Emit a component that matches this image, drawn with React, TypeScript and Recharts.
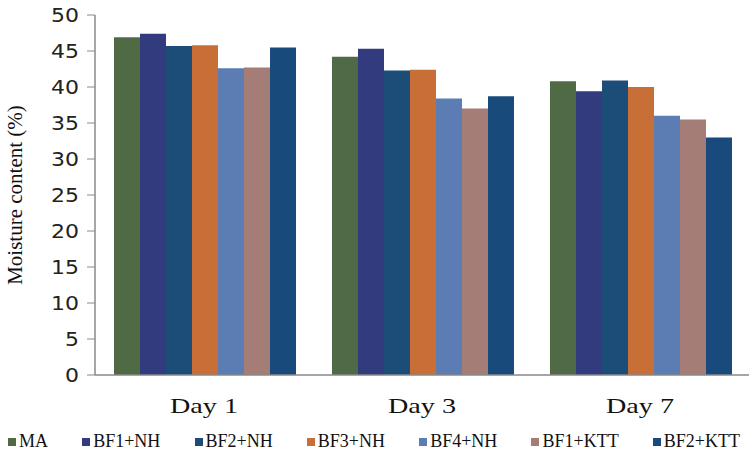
import React from "react";
import { BarChart, Bar, XAxis, YAxis } from "recharts";

const categories = ["Day 1", "Day 3", "Day 7"];
const seriesNames = ["MA", "BF1+NH", "BF2+NH", "BF3+NH", "BF4+NH", "BF1+KTT", "BF2+KTT"];
const MA = [46.9, 44.2, 40.8];
const BF1NH = [47.4, 45.3, 39.4];
const BF2NH = [45.7, 42.3, 40.9];
const BF3NH = [45.8, 42.4, 40.0];
const BF4NH = [42.6, 38.4, 36.0];
const BF1KTT = [42.7, 37.0, 35.5];
const BF2KTT = [45.5, 38.7, 33.0];
const yTicks = [0, 5, 10, 15, 20, 25, 30, 35, 40, 45, 50];

const seriesValues = [MA, BF1NH, BF2NH, BF3NH, BF4NH, BF1KTT, BF2KTT];
const colors = ["#4f6a45", "#313b7e", "#1c4c78", "#c76f37", "#5b7db3", "#a57d77", "#184a7b"];

const data = categories.map((c, i) => {
  const row: Record<string, any> = { name: c };
  seriesNames.forEach((s, j) => {
    row[s] = seriesValues[j][i];
  });
  return row;
});

const LegendBox = () => (
  <div
    style={{
      position: "absolute",
      left: 8,
      top: 431,
      width: 732,
      display: "flex",
      justifyContent: "space-between",
      fontFamily: "'Liberation Serif', 'Times New Roman', serif",
      fontSize: 18,
      color: "#111",
    }}
  >
    {seriesNames.map((s, i) => (
      <div key={s} style={{ display: "flex", alignItems: "center" }}>
        <span style={{ width: 8, height: 8, background: colors[i], display: "inline-block", marginRight: 3 }} />
        <span>{s}</span>
      </div>
    ))}
  </div>
);

const XTick = (props: any) => {
  const { x, y, payload } = props;
  return (
    <text
      x={x}
      y={y + 30}
      textAnchor="middle"
      fontFamily="'Liberation Serif', 'Times New Roman', serif"
      fontSize={22}
      fill="#111"
      textLength={68}
      lengthAdjust="spacingAndGlyphs"
    >
      {payload.value}
    </text>
  );
};

const YTick = (props: any) => {
  const { x, y, payload } = props;
  return (
    <text
      x={x - 6}
      y={y + 7}
      textAnchor="end"
      fontFamily="'DejaVu Sans', Verdana, sans-serif"
      fontSize={19}
      fill="#222"
      textLength={String(payload.value).length * 14}
      lengthAdjust="spacingAndGlyphs"
    >
      {payload.value}
    </text>
  );
};

export default function App() {
  return (
    <div style={{ position: "absolute", left: 0, top: 0, width: 752, height: 458, background: "#fff" }}>
      <BarChart
        width={752}
        height={458}
        data={data}
        margin={{ top: 15, right: 3, bottom: 0, left: 0 }}
        barCategoryGap={19}
        barGap={0}
      >
        <XAxis
          dataKey="name"
          tick={<XTick />}
          tickLine={false}
          axisLine={{ stroke: "#888", strokeWidth: 1.5 }}
          height={83}
        />
        <YAxis
          domain={[0, 50]}
          ticks={yTicks}
          width={95}
          tick={<YTick />}
          tickLine={{ stroke: "#888" }}
          tickSize={8}
          axisLine={{ stroke: "#888", strokeWidth: 1.5 }}
          label={{
            value: "Moisture content (%)",
            angle: -90,
            position: "insideLeft",
            dx: 10,
            style: {
              fontFamily: "'Liberation Serif', 'Times New Roman', serif",
              fontSize: 21,
              fill: "#111",
              textAnchor: "middle",
            },
          }}
        />
        {seriesNames.map((s, i) => (
          <Bar key={s} dataKey={s} fill={colors[i]} isAnimationActive={false} />
        ))}
      </BarChart>
      <LegendBox />
    </div>
  );
}
